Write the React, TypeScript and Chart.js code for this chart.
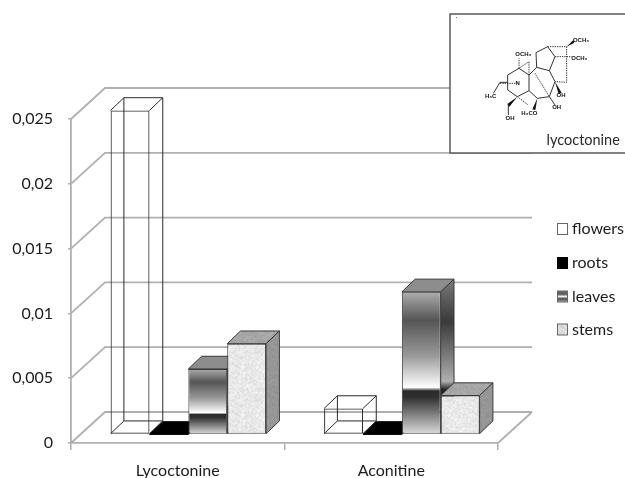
import React, { useEffect, useRef } from "react";
import { Chart, registerables } from "chart.js";

Chart.register(...registerables);

const categories = ["Lycoctonine", "Aconitine"];
const flowers = [0.025, 0.002];
const roots = [0, 0];
const leaves = [0.00505, 0.011];
const stems = [0.007, 0.003];
const seriesNames = ["flowers", "roots", "leaves", "stems"];
const tickLabels = ["0", "0,005", "0,01", "0,015", "0,02", "0,025"];

const FONT = "Lato, 'Open Sans', sans-serif";
const GRID = "#b0b0b0";
const BAR_LINE = "#3a3a3a";
const TEXT = "#1c1c1c";

const leafStops: [number, string][] = [
  [0, "#b0b0b0"], [0.05, "#979797"], [0.2, "#555555"], [0.45, "#9a9a9a"],
  [0.67, "#ffffff"], [0.695, "#2a2a2a"], [0.74, "#303030"], [1, "#dedede"],
];
const leafSideStops: [number, string][] = [
  [0, "#7a7a7a"], [0.3, "#3a3a3a"], [0.6, "#8c8c8c"], [0.72, "#b0b0b0"], [0.78, "#222222"], [1, "#444444"],
];

function noisePattern(c: CanvasRenderingContext2D, lo: number, hi: number) {
  const n = document.createElement("canvas");
  n.width = 48; n.height = 48;
  const g = n.getContext("2d")!;
  for (let y = 0; y < 48; y++) for (let x = 0; x < 48; x++) {
    const h = Math.sin(x * 12.9898 + y * 78.233) * 43758.5453;
    const f = h - Math.floor(h);
    const v = Math.round(lo + (hi - lo) * f);
    g.fillStyle = `rgb(${v},${v},${v})`;
    g.fillRect(x, y, 1, 1);
  }
  return c.createPattern(n, "repeat")!;
}

function vGrad(c: CanvasRenderingContext2D, top: number, bottom: number, stops: [number, string][]) {
  const g = c.createLinearGradient(0, top, 0, bottom);
  stops.forEach(([o, col]) => g.addColorStop(o, col));
  return g;
}

// oblique projection of the picture
const FLOOR_DX = 34, FLOOR_DY = -31;
const BAR_SHIFT_X = 10.6, BAR_SHIFT_Y = -8.6;
const DEPTH_X = 13.3, DEPTH_Y = -12.7;

function poly(c: CanvasRenderingContext2D, pts: number[][], fill?: any, stroke?: string) {
  c.beginPath();
  pts.forEach(([x, y], i) => (i ? c.lineTo(x, y) : c.moveTo(x, y)));
  c.closePath();
  if (fill) { c.fillStyle = fill; c.fill(); }
  if (stroke) { c.strokeStyle = stroke; c.lineWidth = 1; c.stroke(); }
}

const scene3d = {
  id: "scene3d",
  beforeDatasetsDraw(chart: any) {
    const c: CanvasRenderingContext2D = chart.ctx;
    const { left, right } = chart.chartArea;
    const yS = chart.scales.y;
    c.save();
    c.strokeStyle = GRID;
    c.lineWidth = 1.8;
    yS.ticks.forEach((t: any) => {
      const y = yS.getPixelForValue(t.value);
      c.beginPath();
      c.moveTo(left, y);
      c.lineTo(left + FLOOR_DX, y + FLOOR_DY);
      c.lineTo(right + FLOOR_DX, y + FLOOR_DY);
      c.stroke();
    });
    const y0 = yS.getPixelForValue(0);
    c.beginPath();
    c.moveTo(right, y0);
    c.lineTo(right + FLOOR_DX, y0 + FLOOR_DY);
    c.stroke();
    c.restore();

    const topFill = [null, "#000000", "#8d8d8d", noisePattern(c, 155, 178)];
    const stemSide = noisePattern(c, 140, 160);

    chart.data.datasets.forEach((_: any, di: number) => {
      chart.getDatasetMeta(di).data.forEach((el: any) => {
        const { x, y, base, width } = el.getProps(["x", "y", "base", "width"], true);
        const l = x - width / 2, r = x + width / 2;
        c.save();
        c.translate(BAR_SHIFT_X, BAR_SHIFT_Y);
        const dx = DEPTH_X, dy = DEPTH_Y;
        if (di === 0) {
          c.strokeStyle = "#2a2a2a";
          c.lineWidth = 1;
          c.beginPath();
          c.rect(l + dx, y + dy, width, base - y);
          c.moveTo(l, y); c.lineTo(l + dx, y + dy);
          c.moveTo(r, y); c.lineTo(r + dx, y + dy);
          c.moveTo(l, base); c.lineTo(l + dx, base + dy);
          c.moveTo(r, base); c.lineTo(r + dx, base + dy);
          c.stroke();
        }
        el.draw(c);
        if (di === 1) {
          poly(c, [[l, base], [r, base], [r + dx, base + dy], [l + dx, base + dy]], "#000000", "#000000");
        } else if (di >= 2) {
          const side = di === 2 ? vGrad(c, y + dy, base + dy, leafSideStops) : stemSide;
          poly(c, [[l, y], [r, y], [r + dx, y + dy], [l + dx, y + dy]], topFill[di], BAR_LINE);
          poly(c, [[r, y], [r + dx, y + dy], [r + dx, base + dy], [r, base]], side, BAR_LINE);
        }
        c.restore();
      });
    });
  },
  beforeDatasetDraw() {
    return false;
  },
  afterDraw(chart: any) {
    const c: CanvasRenderingContext2D = chart.ctx;
    // legend
    c.save();
    const rows = [229, 263, 296.5, 329.5];
    const stemPat = noisePattern(c, 205, 235);
    chart.data.datasets.forEach((ds: any, i: number) => {
      const y = rows[i];
      const fill: any = i === 0 ? "#ffffff" : i === 1 ? "#000000"
        : i === 2 ? vGrad(c, y - 6, y + 6, [[0, "#777"], [0.3, "#555"], [0.5, "#eee"], [0.7, "#444"], [1, "#ccc"]]) : stemPat;
      c.fillStyle = fill;
      c.fillRect(557.5, y - 5.5, 10, 11);
      c.strokeStyle = i === 1 ? "#000" : "#666";
      c.lineWidth = 1;
      c.strokeRect(557.5, y - 5.5, 10, 11);
      c.fillStyle = TEXT;
      c.font = `16px ${FONT}`;
      c.textBaseline = "middle";
      c.textAlign = "left";
      c.fillText(ds.label, 572, y);
    });

    // inset picture
    c.fillStyle = "#ffffff";
    c.fillRect(450, 14, 176, 139);
    c.strokeStyle = "#5a5a5a";
    c.lineWidth = 1.5;
    c.beginPath();
    c.moveTo(625, 14); c.lineTo(450, 14); c.lineTo(450, 153); c.lineTo(625, 153);
    c.stroke();
    c.fillStyle = "#2a2a2a";
    c.font = `14.5px ${FONT}`;
    c.textBaseline = "middle";
    c.fillText("lycoctonine", 546.5, 140);
    c.fillStyle = "#777";
    c.fillRect(456, 17, 1, 1);

    c.translate(480, 30);
    c.scale(1 / 3, 1 / 3);
    c.strokeStyle = "#333";
    c.lineWidth = 3;
    const solid = [
      [[117, 115], [83, 135], [83, 180], [112, 200], [147, 182], [147, 135], [117, 115]],
      [[83, 157], [60, 157], [40, 190]],
      [[147, 135], [170, 112], [208, 122], [225, 155], [208, 200], [172, 205], [147, 182]],
      [[170, 112], [168, 68], [203, 50], [225, 80], [208, 122]],
      [[208, 200], [225, 225]],
      [[85, 225], [85, 255]],
    ];
    solid.forEach((p) => {
      c.beginPath();
      p.forEach(([x, y], i) => (i ? c.lineTo(x, y) : c.moveTo(x, y)));
      c.stroke();
    });
    c.setLineDash([4, 3]);
    const dashed = [
      [[117, 115], [117, 85]],
      [[60, 160], [110, 160]],
      [[203, 50], [260, 50]],
      [[225, 80], [275, 80]],
      [[260, 50], [260, 157], [225, 155]],
      [[147, 135], [147, 95], [117, 115]],
      [[165, 130], [208, 200]],
      [[112, 200], [145, 225]],
    ];
    dashed.forEach((p) => {
      c.beginPath();
      p.forEach(([x, y], i) => (i ? c.lineTo(x, y) : c.moveTo(x, y)));
      c.stroke();
    });
    c.setLineDash([]);
    const wedges = [
      [[260, 50], [280, 30], [283, 38]],
      [[225, 155], [236, 192], [245, 188]],
      [[172, 205], [157, 238], [166, 240]],
      [[112, 200], [82, 222], [88, 230]],
    ];
    wedges.forEach((p) => poly(c, p, "#111"));
    c.fillStyle = "#111";
    c.font = `bold 18px "Liberation Sans", sans-serif`;
    c.textAlign = "center";
    const labels: [string, number, number][] = [
      ["OCH₃", 130, 72], ["OCH₃", 303, 30], ["OCH₃", 298, 84], ["H₃C", 32, 200],
      ["OH", 90, 265], ["H₃CO", 148, 249], ["OH", 243, 195], ["OH", 230, 233], ["N", 113, 160],
    ];
    labels.forEach(([t, x, y]) => c.fillText(t, x, y));
    c.restore();
  },
};

export default function App() {
  const ref = useRef<HTMLCanvasElement>(null);
  useEffect(() => {
    const leafFill = (ctx: any) => {
      const c = ctx.chart.ctx;
      const yS = ctx.chart.scales?.y;
      if (ctx.type !== "data" || !yS || !ctx.parsed) return "#777777";
      const t = yS.getPixelForValue(ctx.parsed.y);
      const b = yS.getPixelForValue(0);
      if (!Number.isFinite(t) || !Number.isFinite(b)) return "#777777";
      return vGrad(c, t, b, leafStops);
    };
    const base = { borderWidth: 1, borderSkipped: false, categoryPercentage: 0.7283, barPercentage: 1 };
    const mainCtx = ref.current!.getContext("2d")!;
    const chart = new Chart(ref.current!, {
      type: "bar",
      data: {
        labels: categories,
        datasets: [
          { ...base, label: seriesNames[0], data: flowers, backgroundColor: "rgba(0,0,0,0)", borderColor: "#2a2a2a" },
          { ...base, label: seriesNames[1], data: roots, backgroundColor: "#000000", borderColor: "#000000" },
          { ...base, label: seriesNames[2], data: leaves, backgroundColor: leafFill, borderColor: BAR_LINE },
          { ...base, label: seriesNames[3], data: stems, backgroundColor: noisePattern(mainCtx, 215, 250), borderColor: BAR_LINE },
        ] as any,
      },
      options: {
        responsive: false,
        animation: false,
        devicePixelRatio: 1,
        layout: { padding: { top: 119, right: 127, left: 0, bottom: 0 } },
        plugins: { legend: { display: false }, tooltip: { enabled: false } },
        scales: {
          x: {
            afterFit: (s: any) => { s.height = 35; },
            border: { color: GRID, width: 1.8 },
            grid: { drawOnChartArea: false, offset: true, color: GRID, tickLength: 7, lineWidth: 1.5 },
            ticks: { color: TEXT, font: { family: FONT, size: 16 }, padding: 11, maxRotation: 0 },
          },
          y: {
            min: 0,
            max: 0.025,
            afterFit: (s: any) => { s.width = 71; },
            border: { color: GRID, width: 1.8 },
            grid: { drawOnChartArea: false, color: GRID, tickLength: 3, lineWidth: 1.5 },
            ticks: {
              stepSize: 0.005,
              color: TEXT,
              font: { family: FONT, size: 16 },
              padding: 15,
              callback: (_v: any, i: number) => tickLabels[i],
            },
          },
        },
      } as any,
      plugins: [scene3d as any],
    });
    return () => chart.destroy();
  }, []);
  return (
    <div style={{ position: "absolute", left: 0, top: 0, width: 625, height: 478, background: "#fff" }}>
      <canvas ref={ref} width={625} height={478} style={{ display: "block", filter: "blur(0.45px)" }} />
    </div>
  );
}
